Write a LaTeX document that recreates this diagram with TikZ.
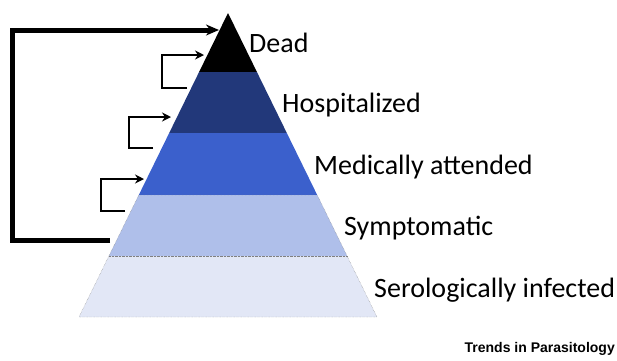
\documentclass[tikz,border=0pt]{standalone}
\usepackage{fontspec}
\setmainfont{Carlito}
\newfontfamily\journalfont{Liberation Sans}
\usepackage{tikz}
\usetikzlibrary{arrows.meta,calc}

\definecolor{tierA}{HTML}{000000}
\definecolor{tierB}{HTML}{22387A}
\definecolor{tierC}{HTML}{3B60CC}
\definecolor{tierD}{HTML}{AFBFEA}
\definecolor{tierE}{HTML}{E2E7F6}

\tikzset{
  tierlabel/.style={anchor=base west, inner sep=0pt, font=\fontsize{28}{31}\selectfont},
  flowarrow/.style={line width=2.9pt, -{Stealth[length=9pt,width=9pt]}},
  bigarrow/.style={line width=5pt, -{Stealth[length=13pt,width=11pt]}},
}

\begin{document}
\begin{tikzpicture}[x=1pt,y=-1pt]
\useasboundingbox (0,0) rectangle (617,360);
%% pyramid bands, apex at (228,13), base from 79 to 377 at y=317
\foreach \ytop/\ybot/\col in {13/72/tierA, 72/133/tierB, 133/195/tierC, 195/256/tierD, 256/317/tierE} {
  \pgfmathsetmacro{\halftop}{0.49013*(\ytop-13)}
  \pgfmathsetmacro{\halfbot}{0.49013*(\ybot-13)}
  \fill[\col] (228-\halftop,\ytop) -- (228+\halftop,\ytop) -- (228+\halfbot,\ybot) -- (228-\halfbot,\ybot) -- cycle;
}
%% dotted outline of the two pale tiers
\draw[gray, densely dotted, thin] (138.8,195) -- (317.2,195) -- (377,317) -- (79,317) -- cycle;
\draw[gray, densely dotted, thin] (108.9,256) -- (347.1,256);

%% labels
\node[tierlabel] (dead) at (249,52) {Dead};
\node[tierlabel] (hosp) at (282,112) {Hospitalized};
\node[tierlabel] (med) at (314,174) {Medically attended};
\node[tierlabel] (sympt) at (344,235) {Symptomatic};
\node[tierlabel] (sero) at (374,297) {Serologically infected};

%% arrow end points
\coordinate (deadin) at (219,30);
\coordinate (sympout) at (110,240);
\coordinate (hospout) at (187,88);
\coordinate (hospin) at (204,55);
\coordinate (medout) at (153,148);
\coordinate (medin) at (171,117);
\coordinate (symout) at (125,211);
\coordinate (symin) at (144,179);

%% flow arrows
\draw[bigarrow] (sympout) -| (12.5,30) -- (deadin);
\draw[flowarrow] (hospout) -| (162,55) -- (hospin);
\draw[flowarrow] (medout) -| (129,117) -- (medin);
\draw[flowarrow] (symout) -| (101,179) -- (symin);

\node[anchor=base east, inner sep=0pt, font=\journalfont\bfseries\fontsize{14}{16}\selectfont] (journal) at (615,352) {Trends in Parasitology};
\end{tikzpicture}
\end{document}
